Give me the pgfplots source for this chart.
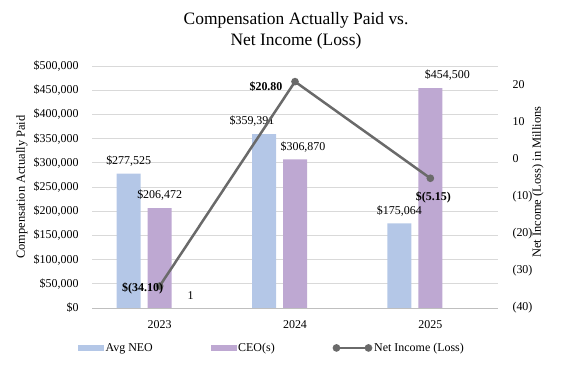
\documentclass[border=0pt]{standalone}
\usepackage{fontspec}
\setmainfont{Liberation Serif}
\usepackage{pgfplots}
\usepackage{pgfplotstable}
\pgfplotsset{compat=1.18}
\definecolor{neo}{HTML}{B4C7E7}
\definecolor{ceo}{HTML}{BEA8D2}
\definecolor{lineg}{HTML}{6A6A6A}
\definecolor{gridg}{HTML}{D9D9D9}
\definecolor{axisg}{HTML}{BFBFBF}

\pgfplotstableread{
x y dx label
0 277525 0 {\$277,525}
1 359391 -12 {\$359,391}
2 175064 0 {\$175,064}
}\neotab
\pgfplotstableread{
x y dx label
0 206472 0 {\$206,472}
1 306870 8 {\$306,870}
2 454500 17 {\$454,500}
}\ceotab
\pgfplotstableread{
x y dx label
0 1 0 {1}
}\onetab
\pgfplotstableread{
x y dx dy label
0 -34.10 -17 -2 {\$(34.10)}
1 20.80 -29 -5 {\$20.80}
2 -5.15 3 -19 {\$(5.15)}
}\nitab

\begin{document}
\begin{tikzpicture}
\useasboundingbox (0,0) rectangle (566bp,367bp);
\node[align=center, font=\fontsize{17.5}{21}\selectfont] at (296bp,336bp) {Compensation Actually Paid vs.\\Net Income (Loss)};

\begin{axis}[
  at={(92bp,59bp)}, anchor=south west,
  scale only axis, width=406bp, height=242bp,
  xmin=-0.5, xmax=2.5, ymin=0, ymax=500000,
  axis x line*=bottom, axis y line*=left,
  x axis line style={draw=axisg, line width=0.8bp},
  y axis line style={draw=none},
  xtick={0,1,2}, xticklabels={2023,2024,2025},
  xtick style={draw=none},
  extra x ticks={-0.5,0.5,1.5,2.5}, extra x tick labels={},
  extra x tick style={tick align=outside, major tick length=4bp, tick style={draw=axisg, line width=0.8bp}},
  scaled y ticks=false,
  ytick={0,50000,...,500000},
  yticklabels={\$0,{\$50,000},{\$100,000},{\$150,000},{\$200,000},{\$250,000},{\$300,000},{\$350,000},{\$400,000},{\$450,000},{\$500,000}},
  ytick style={draw=none},
  ymajorgrids, grid style={draw=gridg, line width=0.8bp},
  tick label style={font=\fontsize{12}{14}\selectfont},
  /pgf/number format/assume math mode=true,
  yticklabel style={xshift=-10bp},
  xticklabel style={yshift=-5bp},
  ylabel={Compensation Actually Paid},
  ylabel style={at={(axis description cs:-0.1724,0.5)}, anchor=center, font=\fontsize{12.5}{14}\selectfont},
  ybar, bar width=24bp,
  point meta=explicit symbolic,
  visualization depends on={\thisrow{dx}\as\dx},
  nodes near coords,
  nodes near coords style={anchor=center, yshift=12.5bp, xshift=\dx*1bp, font=\fontsize{12}{14}\selectfont, text=black},
]
\addplot[fill=neo, draw=none, bar shift=-31bp] table[x=x, y=y, meta=label] {\neotab};
\addplot[fill=ceo, draw=none, bar shift=0bp] table[x=x, y=y, meta=label] {\ceotab};
\addplot[fill=none, draw=none, bar shift=31bp] table[x=x, y=y, meta=label] {\onetab};
\end{axis}

\begin{axis}[
  at={(92bp,59bp)}, anchor=south west,
  scale only axis, width=406bp, height=242bp,
  xmin=-0.5, xmax=2.5, ymin=-40, ymax=25,
  axis x line=none, axis y line*=right,
  y axis line style={draw=none},
  ytick={-40,-30,...,20},
  yticklabels={(40),(30),(20),(10),0,10,20},
  ytick style={draw=none},
  tick label style={font=\fontsize{12}{14}\selectfont},
  yticklabel style={anchor=west, xshift=11bp},
  ylabel={Net Income (Loss) in Millions},
  ylabel style={at={(axis description cs:1.0985,0.52)}, anchor=center, rotate=0, font=\fontsize{12.5}{14}\selectfont},
  legend columns=3,
  legend style={draw=none, at={(axis description cs:0.4434,-0.165)}, anchor=center,
    font=\fontsize{12}{14}\selectfont,
    /tikz/every even column/.append style={column sep=56bp}},
]
\addlegendimage{legend image code/.code={\fill[neo] (0bp,-2.5bp) rectangle (25bp,2.5bp);}}
\addlegendentry{Avg NEO}
\addlegendimage{legend image code/.code={\fill[ceo] (0bp,-2.5bp) rectangle (25bp,2.5bp);}}
\addlegendentry{CEO(s)}
\addplot[color=lineg, line width=2.5bp, mark=*, mark size=2.5bp, mark options={fill=lineg, draw=lineg},
  point meta=explicit symbolic,
  visualization depends on={\thisrow{dx}\as\dx},
  visualization depends on={\thisrow{dy}\as\dy},
  nodes near coords,
  nodes near coords style={anchor=center, xshift=\dx*1bp, yshift=\dy*1bp, font=\bfseries\fontsize{12}{14}\selectfont, text=black},
  legend image code/.code={\draw[lineg, line width=2.5bp] (0bp,0bp) -- (32bp,0bp); \fill[lineg] (0bp,0bp) circle (2.5bp); \fill[lineg] (32bp,0bp) circle (2.5bp);}
] table[x=x, y=y, meta=label] {\nitab};
\addlegendentry{Net Income (Loss)}
\end{axis}
\end{tikzpicture}
\end{document}
